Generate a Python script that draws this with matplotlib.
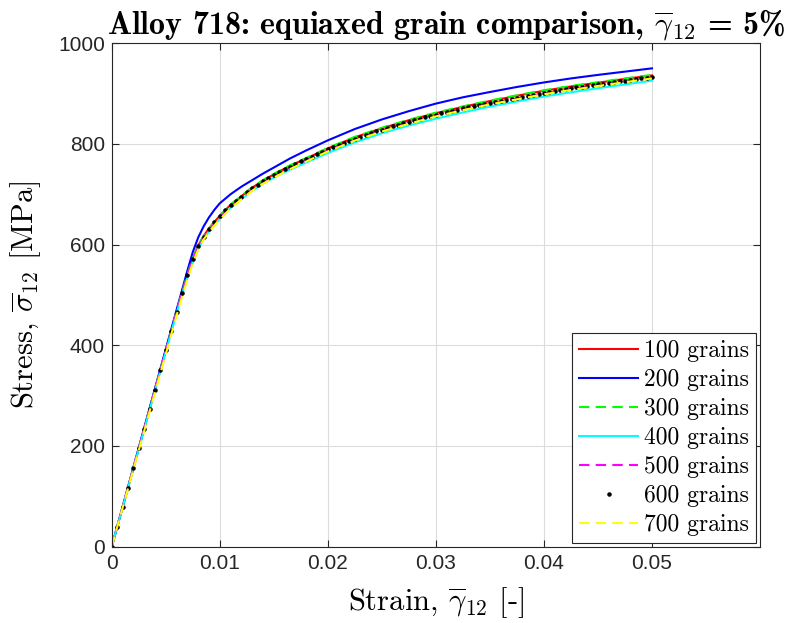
import numpy as np
import matplotlib.pyplot as plt

plt.rcParams['mathtext.fontset'] = 'cm'
plt.rcParams['font.family'] = ['Liberation Sans', 'DejaVu Sans']

# strain points used for the line series
strain = [0, 0.002, 0.004, 0.006, 0.0065, 0.007, 0.0075, 0.008, 0.0085, 0.009,
          0.0095, 0.010, 0.011, 0.012, 0.013, 0.014, 0.015, 0.0165, 0.018, 0.020,
          0.0225, 0.025, 0.0275, 0.030, 0.0325, 0.035, 0.0375, 0.040, 0.0425,
          0.045, 0.0475, 0.050]

stress_100 = [0, 156, 312, 467, 504, 540, 572, 598, 617, 632, 645, 657, 679, 696,
              713, 727, 739.5, 756.5, 771, 791, 813, 831, 847, 861, 873.5, 885,
              895.5, 905.5, 914, 921.5, 929, 936]
stress_200 = [0, 157, 314, 470, 509, 548, 585, 614, 636, 654, 669, 682, 700, 715,
              728, 741, 753, 771, 787, 807, 829.5, 848.5, 865, 880, 892.5, 903,
              913, 922, 930, 937, 943.5, 950]
stress_300 = [0, 156, 312, 467, 504, 540, 572, 598, 617, 632, 645.5, 657.5, 679.5,
              696.5, 714, 728, 740.5, 757.5, 772, 792, 814, 832, 848, 862, 874.5,
              886, 896.5, 906.5, 915, 922.5, 930, 937]
stress_400 = [0, 155, 310, 464, 500, 534, 565, 591, 611, 626, 639, 651, 673, 690,
              707, 721, 733, 749, 763, 782, 803, 821, 836.5, 850, 862.5, 874, 884,
              894, 902.5, 910.5, 918, 925.5]
stress_500 = [0, 156, 311, 465, 502, 537, 569, 595, 614, 629, 642, 654, 676, 693,
              710, 724, 736, 753, 767, 787, 808.5, 826.5, 842, 856, 868.5, 880,
              890, 900, 908.5, 916, 923.5, 931]
stress_700 = [0, 153, 306, 459, 496, 531, 563, 590, 610, 625, 638, 650, 672, 690,
              707, 721, 733, 750, 765, 785, 806.5, 824.5, 840, 854.5, 867, 878.5,
              888.5, 898.5, 907, 915, 922.5, 930]

# 600 grains is drawn as dots, one per recorded increment (0.0005 strain)
strain_600 = np.linspace(0, 0.05, 101)
stress_600 = [0, 39, 78, 117, 156, 195, 234, 273, 312, 351, 390, 429, 467, 504,
              539, 571, 597, 616, 631, 644, 656, 668, 678, 687, 695, 704, 712,
              719, 726, 732, 738, 744, 750, 755, 760, 765, 769, 774, 779, 784,
              789, 793.5, 798, 802.5, 806.5, 810.5, 814.5, 818, 821.5, 825, 828.5,
              832, 835, 838, 841, 844, 847, 850, 853, 855.5, 858, 860.5, 863,
              865.5, 868, 870.5, 873, 875.5, 877.5, 880, 882, 884, 886, 888, 890,
              892, 894, 896, 898, 900, 902, 904, 905.5, 907, 909, 910.5, 912,
              913.5, 915, 916.5, 918, 919.5, 921, 922.5, 924, 925.5, 927, 928.5,
              930, 931.5, 933]

x_ticks = [0, 0.01, 0.02, 0.03, 0.04, 0.05]
x_tick_labels = ['0', '0.01', '0.02', '0.03', '0.04', '0.05']
y_ticks = [0, 200, 400, 600, 800, 1000]

fig = plt.figure(figsize=(7.93, 6.23), dpi=100)
ax = fig.add_axes([0.1409, 0.1225, 0.8175, 0.8082])

lw = 1.5
dash = (0, (5, 3))
ax.plot(strain, stress_100, color='#ff0000', lw=lw, label='100 grains')
ax.plot(strain, stress_200, color='#0000ff', lw=lw, label='200 grains')
ax.plot(strain, stress_300, color='#00ff00', lw=lw, ls=dash, label='300 grains')
ax.plot(strain, stress_400, color='#00ffff', lw=lw, label='400 grains')
ax.plot(strain, stress_500, color='#ff00ff', lw=lw, ls=dash, label='500 grains')
ax.plot(strain_600, stress_600, ls='none', marker='.', ms=4.5, color='black',
        label='600 grains')
ax.plot(strain, stress_700, color='#ffff00', lw=lw, ls=dash, label='700 grains')

ax.set_xlim(0, 0.06)
ax.set_ylim(0, 1000)
ax.set_xticks(x_ticks)
ax.set_xticklabels(x_tick_labels)
ax.set_yticks(y_ticks)
ax.tick_params(direction='in', top=True, right=True, labelsize=15, colors='#262626',
               length=5, width=0.8, pad=5)
for sp in ax.spines.values():
    sp.set_color('#262626')
    sp.set_linewidth(0.8)
ax.grid(True, color='#dcdcdc', lw=0.8)
ax.set_axisbelow(True)

ax.set_xlabel(r'Strain, $\overline{\gamma}_{12}$ [-]', fontsize=22, family='cmr10',
              labelpad=9)
ax.set_ylabel(r'Stress, $\overline{\sigma}_{12}$ [MPa]', fontsize=22, family='cmr10',
              labelpad=11)
ax.set_title(r'Alloy 718: equiaxed grain comparison, $\overline{\gamma}_{\mathbf{12}}$ = 5%',
             fontsize=23, family='cmb10', x=0.5157, pad=6)

leg = ax.legend(loc='lower right', prop={'family': 'cmr10', 'size': 17},
                handlelength=2.5, handletextpad=0.25, labelspacing=0.29, borderpad=0.3,
                fancybox=False, framealpha=1, edgecolor='#262626', borderaxespad=0.15)
leg.get_frame().set_linewidth(0.8)

fig.savefig('out.png', dpi=100)
